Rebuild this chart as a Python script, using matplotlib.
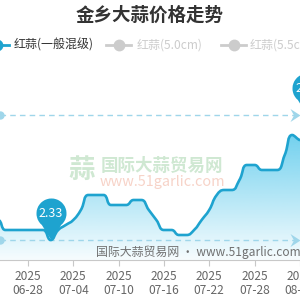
import numpy as np
import pandas as pd
import matplotlib
matplotlib.use("Agg")
import matplotlib.pyplot as plt
from matplotlib.path import Path
from matplotlib.patches import PathPatch

plt.rcParams['font.family'] = ['Noto Sans CJK SC', 'DejaVu Sans']

# Datos
titulo = "金乡大蒜价格走势"
series = ["红蒜(一般混级)", "红蒜(5.0cm)", "红蒜(5.5cm)"]
fechas = pd.date_range("2025-06-22", "2025-08-04", freq="D")
precios = [2.37, 2.37, 2.37, 2.35, 2.35, 2.35, 2.35, 2.35, 2.35, 2.33,
           2.35, 2.36, 2.37, 2.39, 2.42, 2.42, 2.42, 2.40, 2.40, 2.40,
           2.41, 2.41, 2.39, 2.37, 2.35, 2.35, 2.34, 2.34, 2.35, 2.37,
           2.39, 2.42, 2.43, 2.43, 2.45, 2.48, 2.48, 2.47, 2.47, 2.47,
           2.50, 2.54, 2.53, 2.58]
paso_etiquetas = 6

azul = "#1ea3cf"
gris_leyenda = "#cccccc"
color_marca = "#9fd6ea"

W = H = 300.0
fig = plt.figure(figsize=(3, 3), dpi=100)
fig.patch.set_facecolor("white")

# eje: de y=60 a y=260 px, ocupa todo el ancho
ax = fig.add_axes([0, 40 / H, 1, 200 / H])
px_dia = 7.55
px_val = 500.0
x0 = 6 - 28 / px_dia
xl = (x0, x0 + W / px_dia)
ymin = 2.33 - 20 / px_val
yl = (ymin, ymin + 200 / px_val)

x = np.arange(len(precios))
y = np.array(precios)


def curva_suave(xs, ys, sx, sy, smooth=0.5):
    # suavizado al estilo echarts, calculado en pixeles
    p = np.column_stack([xs * sx, ys * sy]).astype(float)
    n = len(p)
    cp_next = p.copy()
    cp_prev = p.copy()
    for i in range(1, n - 1):
        prev, cur, nxt = p[i - 1], p[i], p[i + 1]
        v = nxt - prev
        l0 = np.hypot(*(cur - prev))
        l1 = np.hypot(*(nxt - cur))
        r = l1 / (l0 + l1)
        c0 = cur + v * smooth * r
        c0 = np.clip(c0, np.minimum(nxt, cur), np.maximum(nxt, cur))
        c1 = cur - (c0 - cur) * l0 / l1
        c1 = np.clip(c1, np.minimum(prev, cur), np.maximum(prev, cur))
        c0 = cur + (cur - c1) * l1 / l0
        cp_next[i] = c0
        cp_prev[i] = c1
    verts = [p[0]]
    codes = [Path.MOVETO]
    for i in range(n - 1):
        verts += [cp_next[i], cp_prev[i + 1], p[i + 1]]
        codes += [Path.CURVE4] * 3
    verts = np.array(verts) / [sx, sy]
    return verts, codes


verts, codes = curva_suave(x, y, px_dia, px_val)
linea = Path(verts, codes)

# area con degradado
area_v = np.vstack([verts, [[x[-1], ymin], [x[0], ymin], [x[0], ymin]]])
area_c = codes + [Path.LINETO, Path.LINETO, Path.CLOSEPOLY]
area = PathPatch(Path(area_v, area_c), facecolor="none", edgecolor="none")
ax.add_patch(area)
grad = np.zeros((256, 1, 4))
grad[:, 0, 0] = 40 / 255
grad[:, 0, 1] = 185 / 255
grad[:, 0, 2] = 230 / 255
grad[:, 0, 3] = np.linspace(0.75, 0.04, 256)
img = ax.imshow(grad, extent=(x[0], x[-1], ymin, y.max()), aspect="auto",
                origin="upper", zorder=1)
img.set_clip_path(area)

ax.add_patch(PathPatch(linea, facecolor="none", edgecolor=azul, lw=1.9,
                       zorder=3, capstyle="round", joinstyle="round"))


# lineas de maximo y minimo
def flecha():
    v = np.array([[0, 0], [-2, 1.3], [-1.3, 0], [-2, -1.3], [0, 0]])
    return Path(v, [Path.MOVETO, Path.LINETO, Path.LINETO, Path.LINETO, Path.CLOSEPOLY])


for val in [y.max(), y.min()]:
    ax.plot([xl[0], xl[1]], [val, val], ls=(0, (4, 3)), lw=1, color=color_marca, zorder=2)
    ax.plot(xl[0], val, "o", ms=5, color=color_marca, clip_on=False, zorder=2)
    ax.plot(xl[1] - 0.05, val, marker=flecha(), ms=14.4,
            color=color_marca, mew=0, clip_on=False, zorder=2)


# globos de max/min
def globo():
    arc = Path.arc(-50, 230)
    v = arc.vertices + [0, 1.8]
    v = np.vstack([v, [[0, 0], [0, 0]]])
    c = list(arc.codes) + [Path.LINETO, Path.CLOSEPOLY]
    return Path(v, c)


pin = globo()
escala = np.max(np.abs(pin.vertices))
ms_pin = 2 * escala * 15 / (100 / 72)
for idx in [int(np.argmax(y)), int(np.argmin(y))]:
    ax.plot(x[idx], y[idx], marker=pin, ms=ms_pin, color=azul, mew=0,
            clip_on=False, zorder=5)
    ax.annotate(f"{y[idx]:.2f}", (x[idx], y[idx]), xytext=(0, 27 * 0.72),
                textcoords="offset points", ha="center", va="center",
                color="white", fontsize=9, zorder=6, annotation_clip=False)

# ejes
for lado in ["top", "left", "right"]:
    ax.spines[lado].set_visible(False)
ax.spines["bottom"].set_color("#c8c8c8")
ax.set_yticks([])
pos = x[::paso_etiquetas]
ax.set_xticks(pos)
ax.set_xticklabels([fechas[i].strftime("%Y\n%m-%d") for i in pos],
                   fontsize=8.6, color="#666666", linespacing=1.15)
ax.tick_params(axis="x", length=4, color="#c8c8c8", pad=3)
ax.set_xlim(*xl)
ax.set_ylim(*yl)

# marca de agua
fig.text(82 / W, 1 - 170 / H, "蒜", fontsize=19, color="#cfe8d2", ha="center",
         va="center", fontweight="bold")
fig.text(101 / W, 1 - 166 / H, "国际大蒜贸易网", fontsize=12.6, color="#cfe8d2",
         ha="left", va="center", fontweight="bold")
fig.text(100 / W, 1 - 182 / H, "www.51garlic.com", fontsize=10.4, color="#f7d3c8",
         ha="left", va="center", style="italic")
fig.text(301 / W, 1 - 252 / H, "国际大蒜贸易网 · www.51garlic.com", fontsize=8.6,
         color="#707070", ha="right", va="center")

# titulo
fig.text(0.5, 1 - 15 / H, titulo, fontsize=13.3, fontweight="bold",
         color="#333333", ha="center", va="center")

# leyenda manual
leg = fig.add_axes([0, 0, 1, 1], facecolor="none")
leg.set_xlim(0, W)
leg.set_ylim(H, 0)
leg.axis("off")
items = [(-3.5, 14, azul, "#333333"), (118.5, 137, gris_leyenda, gris_leyenda),
         (233.5, 250, gris_leyenda, gris_leyenda)]
for (cx, tx, col, tcol), nombre in zip(items, series):
    leg.plot([cx - 12.5, cx + 12.5], [45, 45], color=col, lw=2)
    leg.plot(cx, 45, "o", ms=7, mfc=col, mec=col, mew=1.5)
    leg.text(tx, 45, nombre, fontsize=8.64, color=tcol, ha="left", va="center")

fig.savefig("out.png", dpi=100)
